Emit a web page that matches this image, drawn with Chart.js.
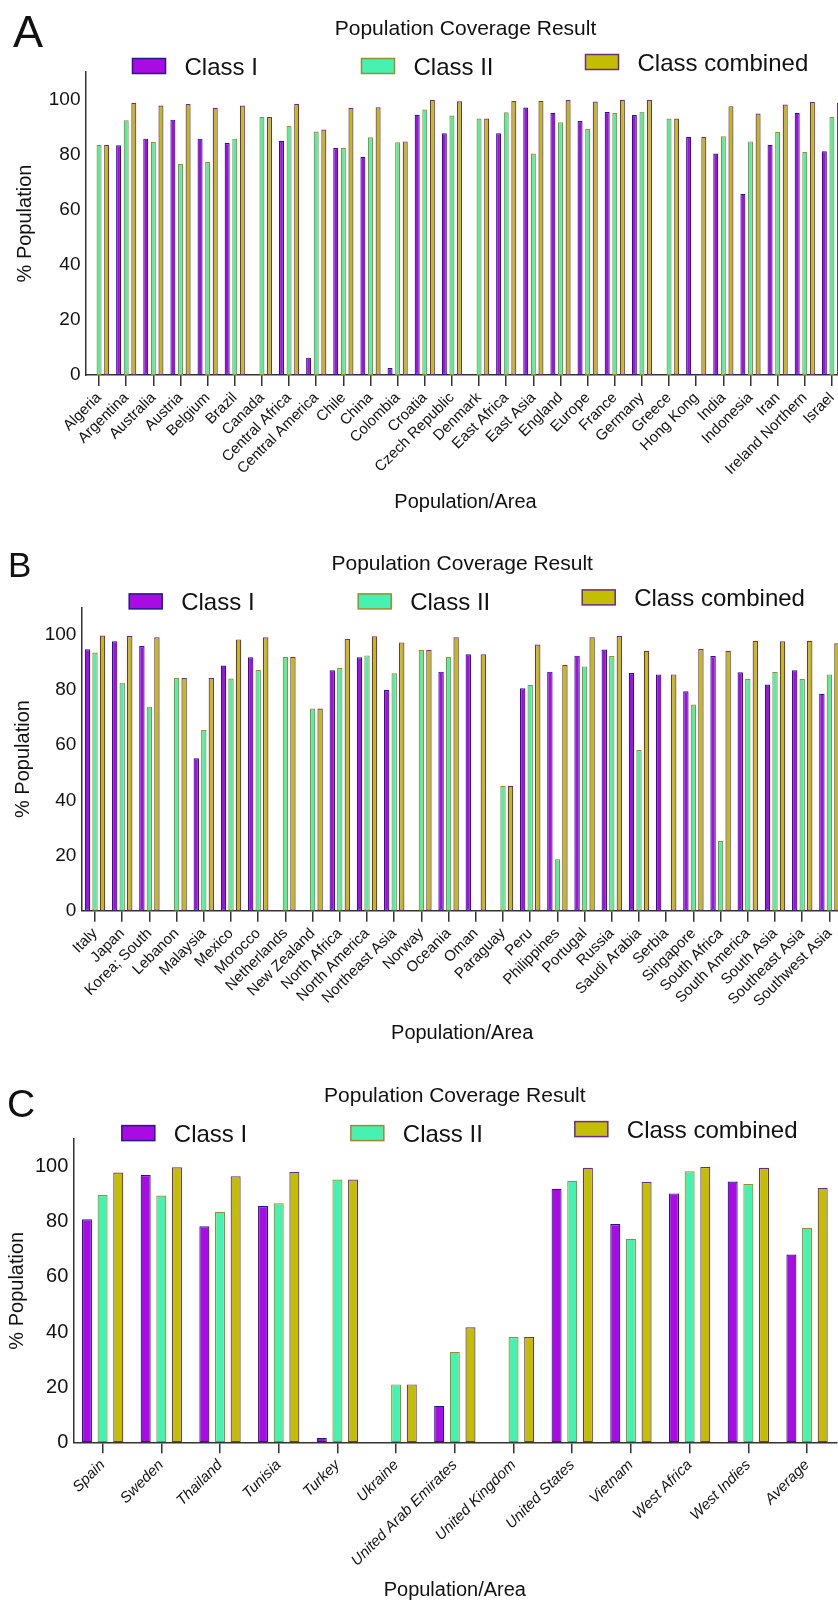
<!DOCTYPE html>
<html>
<head>
<meta charset="utf-8">
<script src="https://cdn.jsdelivr.net/npm/chart.js@4/dist/chart.umd.min.js"></script>
<style>
html,body{margin:0;padding:0;background:#fff;overflow:hidden;width:838px;height:1600px;position:relative;}
.panel{position:absolute;left:0;width:838px;overflow:hidden;}
canvas{display:block;}
</style>
</head>
<body>
<div class="panel" style="top:0;height:520px"><canvas id="cA" width="850" height="520" style="width:850px;height:520px"></canvas></div>
<div class="panel" style="top:520px;height:530px"><canvas id="cB" width="850" height="530" style="width:850px;height:530px"></canvas></div>
<div class="panel" style="top:1050px;height:550px"><canvas id="cC" width="838" height="552" style="width:838px;height:552px"></canvas></div>
<script>
// ---------- DATA ----------
const seriesNames = ['Class I', 'Class II', 'Class combined'];

const categoriesA = ['Algeria','Argentina','Australia','Austria','Belgium','Brazil','Canada','Central Africa','Central America','Chile','China','Colombia','Croatia','Czech Republic','Denmark','East Africa','East Asia','England','Europe','France','Germany','Greece','Hong Kong','India','Indonesia','Iran','Ireland Northern','Israel'];
const classIA = [null, 83.4, 85.8, 92.7, 85.8, 84.2, null, 85.0, 6.3, 82.4, 79.2, 2.5, 94.5, 87.8, null, 87.8, 97.1, 95.2, 92.2, 95.5, 94.4, null, 86.5, 80.4, 65.8, 83.6, 95.2, 81.2];
const classIIA = [83.6, 92.5, 84.7, 76.7, 77.3, 85.8, 93.7, 90.5, 88.4, 82.4, 86.3, 84.5, 96.4, 94.2, 93.1, 95.4, 80.4, 91.8, 89.3, 95.2, 95.6, 93.1, null, 86.7, 84.8, 88.2, 81.0, 93.7];
const combinedA = [83.6, 98.8, 97.8, 98.4, 97.0, 97.8, 93.7, 98.5, 89.1, 97.0, 97.2, 84.8, 99.8, 99.4, 93.1, 99.5, 99.5, 99.8, 99.3, 99.9, 99.9, 93.1, 86.5, 97.6, 94.9, 98.2, 99.2, 98.8];

const categoriesB = ['Italy','Japan','Korea; South','Lebanon','Malaysia','Mexico','Morocco','Netherlands','New Zealand','North Africa','North America','Northeast Asia','Norway','Oceania','Oman','Paraguay','Peru','Philippines','Portugal','Russia','Saudi Arabia','Serbia','Singapore','South Africa','South America','South Asia','Southeast Asia','Southwest Asia'];
const classIB = [94.8, 97.7, 96.0, null, 55.3, 88.9, 91.9, null, null, 87.2, 91.9, 80.0, null, 86.7, 93.0, null, 80.7, 86.7, 92.5, 94.7, 86.2, 85.7, 79.6, 92.4, 86.5, 82.0, 87.2, 78.7];
const classIIB = [93.6, 82.7, 74.0, 84.4, 65.5, 84.2, 87.3, 92.1, 73.3, 88.0, 92.6, 86.1, 94.6, 92.1, null, 45.3, 81.9, 18.7, 88.6, 92.4, 58.3, null, 74.8, 25.3, 84.0, 86.6, 84.0, 85.7];
const combinedB = [99.8, 99.6, 99.2, 84.4, 84.4, 98.4, 99.2, 92.1, 73.3, 98.5, 99.5, 97.3, 94.6, 99.2, 93.0, 45.3, 96.5, 89.2, 99.2, 99.6, 94.3, 85.7, 94.9, 94.3, 97.9, 97.7, 97.9, 97.0];

const categoriesC = ['Spain','Sweden','Thailand','Tunisia','Turkey','Ukraine','United Arab Emirates','United Kingdom','United States','Vietnam','West Africa','West Indies','Average'];
const classIC = [80.9, 97.0, 78.4, 85.7, 1.6, null, 13.2, null, 92.0, 79.2, 90.3, 94.6, 68.1];
const classIIC = [89.7, 89.5, 83.6, 86.7, 95.3, 21.0, 32.8, 38.2, 94.9, 73.8, 98.3, 93.7, 77.8];
const combinedC = [97.9, 99.8, 96.5, 98.1, 95.3, 21.0, 41.7, 38.2, 99.6, 94.4, 99.9, 99.6, 92.3];

const yTickValues = [0, 20, 40, 60, 80, 100];

// ---------- STYLE ----------
const FONT = '"Liberation Sans", Arial, Helvetica, sans-serif';
Chart.defaults.font.family = FONT;
Chart.defaults.color = '#111';

const fills = ['#AA0BE2', '#45F2B2', '#C3BF00'];
const borders = ['#22198F', '#9A8D2C', '#6A2C86'];

const headerPlugin = {
  id: 'header',
  afterDraw(chart, args, o) {
    const ctx = chart.ctx, ca = chart.chartArea;
    const cx = (ca.left + ca.right) / 2;
    ctx.save();
    ctx.fillStyle = '#111';
    ctx.textBaseline = 'alphabetic';
    ctx.textAlign = 'left';
    ctx.font = o.letterSize + 'px ' + FONT;
    ctx.fillText(o.letter, o.letterX, o.letterY);
    ctx.textAlign = 'center';
    ctx.font = '21px ' + FONT;
    ctx.fillText('Population Coverage Result', cx, ca.top - 37);
    const offs = [-333, -104, 120];
    const dys = [-6, -6, -10];
    ctx.font = '24px ' + FONT;
    ctx.textAlign = 'left';
    chart.data.datasets.forEach((ds, i) => {
      const bx = cx + offs[i];
      const cy = ca.top + dys[i];
      ctx.fillStyle = ds.backgroundColor;
      ctx.fillRect(bx, cy - 7.5, 33, 15);
      ctx.strokeStyle = ds.borderColor;
      ctx.lineWidth = 1.5;
      ctx.strokeRect(bx, cy - 7.5, 33, 15);
      ctx.fillStyle = '#111';
      ctx.fillText(ds.label, bx + 33 + 19, cy + 8.6);
    });
    ctx.restore();
  }
};

function makeChart(id, cats, s1, s2, s3, g) {
  const data = [s1, s2, s3];
  new Chart(document.getElementById(id), {
    type: 'bar',
    data: {
      labels: cats,
      datasets: data.map((d, i) => ({
        label: seriesNames[i],
        data: d,
        backgroundColor: fills[i],
        borderColor: borders[i],
        borderWidth: 1.2,
        borderSkipped: false,
        categoryPercentage: g.catPct,
        barPercentage: g.barPct
      }))
    },
    options: {
      responsive: false,
      animation: false,
      devicePixelRatio: 1,
      layout: { padding: { top: g.padTop, right: g.padRight, left: 0, bottom: 0 } },
      plugins: {
        legend: { display: false },
        title: { display: false },
        tooltip: { enabled: false },
        header: { letter: g.letter, letterSize: g.letterSize, letterX: g.letterX, letterY: g.letterY }
      },
      scales: {
        x: {
          offset: true,
          grid: { display: true, drawOnChartArea: false, drawTicks: true, tickLength: 11, color: '#333', lineWidth: 1.5, offset: false },
          border: { display: true, color: '#333', width: 1.5 },
          ticks: {
            autoSkip: false, minRotation: 45, maxRotation: 45, padding: 3, color: '#111',
            font: { size: 15, style: g.italic ? 'italic' : 'normal' }
          },
          title: { display: true, text: 'Population/Area', font: { size: 20 }, color: '#111', padding: { top: 0, bottom: g.xTitlePad } },
          afterFit(s) { s.height = g.xHeight; s.paddingLeft = 0; s.paddingRight = 0; }
        },
        y: {
          min: 0, max: 110,
          grid: { display: false, drawTicks: false },
          border: { display: true, color: '#333', width: 1.5 },
          afterBuildTicks(s) { s.ticks = yTickValues.map(v => ({ value: v })); },
          ticks: { padding: 5, color: '#111', font: { size: g.yFont } },
          title: { display: true, text: '% Population', font: { size: 20 }, color: '#111', padding: { top: g.yTitlePad, bottom: 0 } },
          afterFit(s) { s.width = g.yWidth; s.paddingTop = 0; s.paddingBottom = 0; }
        }
      }
    },
    plugins: [headerPlugin]
  });
}

makeChart('cA', categoriesA, classIA, classIIA, combinedA, {
  padTop: 72, padRight: 4.5, yWidth: 85.5, xHeight: 145, xTitlePad: 6, yTitlePad: 13,
  catPct: 0.84, barPct: 0.66, italic: false, yFont: 19,
  letter: 'A', letterSize: 45, letterX: 13, letterY: 47
});
makeChart('cB', categoriesB, classIB, classIIB, combinedB, {
  padTop: 87.4, padRight: 7, yWidth: 81.4, xHeight: 139.3, xTitlePad: 5, yTitlePad: 11,
  catPct: 0.83, barPct: 0.72, italic: false, yFont: 19,
  letter: 'B', letterSize: 35, letterX: 8, letterY: 57
});
makeChart('cC', categoriesC, classIC, classIIC, combinedC, {
  padTop: 89.1, padRight: 1.6, yWidth: 73.25, xHeight: 159.7, xTitlePad: 0, yTitlePad: 5,
  catPct: 0.80, barPct: 0.64, italic: true, yFont: 20,
  letter: 'C', letterSize: 39, letterX: 7, letterY: 67
});
</script>
</body>
</html>
